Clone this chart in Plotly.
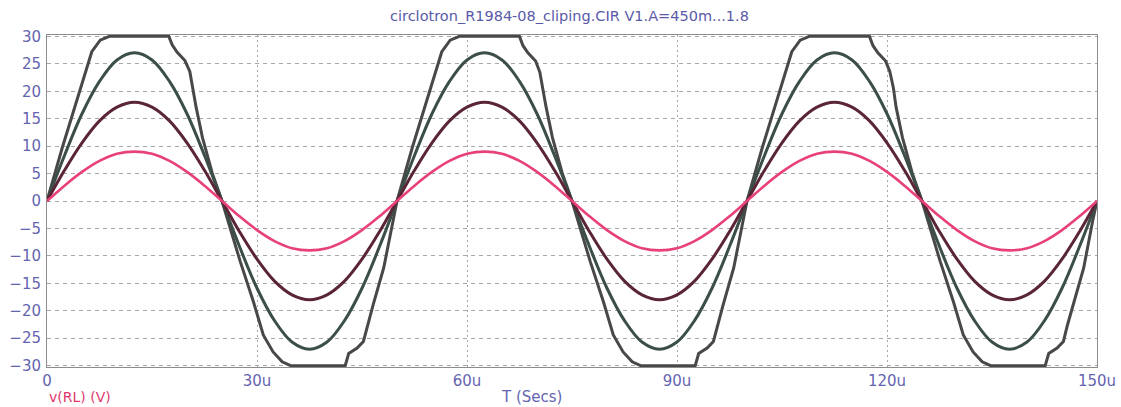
import plotly.graph_objects as go

# sample times (us) for the three unclipped sweeps
t_us = [0, 2.5, 5, 7.5, 10, 12.5, 15, 17.5, 20, 22.5,
        25, 27.5, 30, 32.5, 35, 37.5, 40, 42.5, 45, 47.5,
        50, 52.5, 55, 57.5, 60, 62.5, 65, 67.5, 70, 72.5,
        75, 77.5, 80, 82.5, 85, 87.5, 90, 92.5, 95, 97.5,
        100, 102.5, 105, 107.5, 110, 112.5, 115, 117.5, 120, 122.5,
        125, 127.5, 130, 132.5, 135, 137.5, 140, 142.5, 145, 147.5, 150]

v_450m = [0, 2.8, 5.3, 7.3, 8.6, 9.0, 8.6, 7.3, 5.3, 2.8,
          0, -2.8, -5.3, -7.3, -8.6, -9.0, -8.6, -7.3, -5.3, -2.8,
          0, 2.8, 5.3, 7.3, 8.6, 9.0, 8.6, 7.3, 5.3, 2.8,
          0, -2.8, -5.3, -7.3, -8.6, -9.0, -8.6, -7.3, -5.3, -2.8,
          0, 2.8, 5.3, 7.3, 8.6, 9.0, 8.6, 7.3, 5.3, 2.8,
          0, -2.8, -5.3, -7.3, -8.6, -9.0, -8.6, -7.3, -5.3, -2.8, 0]

v_900m = [0, 5.6, 10.6, 14.6, 17.1, 18.0, 17.1, 14.6, 10.6, 5.6,
          0, -5.6, -10.6, -14.6, -17.1, -18.0, -17.1, -14.6, -10.6, -5.6,
          0, 5.6, 10.6, 14.6, 17.1, 18.0, 17.1, 14.6, 10.6, 5.6,
          0, -5.6, -10.6, -14.6, -17.1, -18.0, -17.1, -14.6, -10.6, -5.6,
          0, 5.6, 10.6, 14.6, 17.1, 18.0, 17.1, 14.6, 10.6, 5.6,
          0, -5.6, -10.6, -14.6, -17.1, -18.0, -17.1, -14.6, -10.6, -5.6, 0]

v_1p35 = [0, 8.3, 15.9, 21.8, 25.7, 27.0, 25.7, 21.8, 15.9, 8.3,
          0, -8.3, -15.9, -21.8, -25.7, -27.0, -25.7, -21.8, -15.9, -8.3,
          0, 8.3, 15.9, 21.8, 25.7, 27.0, 25.7, 21.8, 15.9, 8.3,
          0, -8.3, -15.9, -21.8, -25.7, -27.0, -25.7, -21.8, -15.9, -8.3,
          0, 8.3, 15.9, 21.8, 25.7, 27.0, 25.7, 21.8, 15.9, 8.3,
          0, -8.3, -15.9, -21.8, -25.7, -27.0, -25.7, -21.8, -15.9, -8.3, 0]

# clipped sweep (V1.A = 1.8), read point by point
t_clip = [0, 2.2, 4.4, 5.5, 6.4, 7.6, 8.9, 17.4, 17.9, 18.6, 19.7, 20.4, 20.8, 21.3, 22.2, 23.6,
          25.0, 27.6, 29.5, 30.9, 32.3, 33.6, 34.8, 42.6, 43.1, 44.3, 45.2, 45.8, 46.6, 48.1, 49.4,
          50.0, 52.2, 54.4, 55.5, 56.4, 57.6, 58.9, 67.5, 68.0, 68.7, 69.8, 70.4, 70.8, 71.3, 72.2, 73.6,
          75.0, 77.6, 79.5, 80.9, 82.3, 83.6, 84.8, 92.6, 93.1, 94.3, 95.2, 95.8, 96.6, 98.1, 99.4,
          100.0, 102.2, 104.4, 105.5, 106.4, 107.6, 108.9, 117.5, 118.0, 118.7, 119.8, 120.4, 120.9, 121.3, 122.2, 123.6,
          125.0, 127.6, 129.5, 130.9, 132.3, 133.6, 134.8, 142.6, 143.1, 144.3, 145.2, 145.8, 146.6, 148.1, 149.4,
          150.0]
v_clip = [0, 9.8, 18.9, 23.5, 27.2, 29.3, 30, 30, 28.4, 27.1, 25.6, 23.6, 20.7, 17.1, 11.6, 5.1,
          0, -11.0, -18.4, -24.4, -27.5, -29.3, -30, -30, -27.8, -26.8, -25.6, -22.5, -18.9, -12.2, -3.5,
          0, 9.8, 18.9, 23.5, 27.2, 29.3, 30, 30, 28.3, 27.0, 25.5, 23.5, 20.7, 17.1, 11.6, 5.1,
          0, -11.0, -18.4, -24.4, -27.5, -29.3, -30, -30, -27.8, -26.8, -25.6, -22.5, -18.9, -12.2, -3.5,
          0, 9.8, 18.9, 23.5, 27.2, 29.3, 30, 30, 28.3, 27.0, 25.5, 23.6, 20.7, 17.1, 11.6, 5.1,
          0, -11.0, -18.4, -24.4, -27.5, -29.3, -30, -30, -27.8, -26.8, -25.6, -22.5, -18.9, -12.2, -3.5,
          0]

x_ticks = [0, 30, 60, 90, 120, 150]
x_tick_text = ["0", "30u", "60u", "90u", "120u", "150u"]
y_ticks = [30, 25, 20, 15, 10, 5, 0, -5, -10, -15, -20, -25, -30]

TICK_BLUE = "#6464b0"
FONT = "DejaVu Sans"

fig = go.Figure()
fig.add_trace(go.Scatter(x=t_clip, y=v_clip, mode="lines", name="1.8",
                         line=dict(color="#484848", width=3)))
fig.add_trace(go.Scatter(x=t_us, y=v_1p35, mode="lines", name="1.35",
                         line=dict(color="#3b4f48", width=3, shape="spline")))
fig.add_trace(go.Scatter(x=t_us, y=v_900m, mode="lines", name="900m",
                         line=dict(color="#5a2538", width=3, shape="spline")))
fig.add_trace(go.Scatter(x=t_us, y=v_450m, mode="lines", name="450m",
                         line=dict(color="#e8407a", width=2.6, shape="spline")))

fig.update_layout(
    width=1121, height=407,
    paper_bgcolor="white", plot_bgcolor="white",
    margin=dict(l=47, r=24, t=35, b=40),
    showlegend=False,
    font=dict(family=FONT, size=15, color=TICK_BLUE),
    title=dict(text="circlotron_R1984-08_cliping.CIR V1.A=450m...1.8",
               x=0.508, xanchor="center", y=0.962, yanchor="middle",
               font=dict(family=FONT, size=14.5, color="#5a5aa8")),
)
fig.update_xaxes(range=[0, 150], tickvals=x_ticks, ticktext=x_tick_text, automargin=False,
                 showgrid=True, gridcolor="#a8a8a8", griddash="2px,3px", gridwidth=1,
                 showline=True, mirror=True, linecolor="#8c8c8c", linewidth=1,
                 zeroline=False, ticks="", tickfont=dict(size=15, color=TICK_BLUE))
fig.update_yaxes(range=[-30.25, 30.25], tickvals=y_ticks, automargin=False,
                 showgrid=True, gridcolor="#a8a8a8", griddash="4px,4px", gridwidth=1,
                 showline=True, mirror=True, linecolor="#8c8c8c", linewidth=1,
                 zeroline=False, ticks="", ticklabelstandoff=2,
                 tickfont=dict(size=15, color=TICK_BLUE))

fig.add_annotation(text="v(RL) (V)", xref="paper", yref="paper", x=0, y=-0.09,
                   xanchor="left", yanchor="middle", showarrow=False,
                   font=dict(family=FONT, size=14, color="#e0386e"))
fig.add_annotation(text="T (Secs)", xref="paper", yref="paper", x=0.461, y=-0.09,
                   xanchor="center", yanchor="middle", showarrow=False,
                   font=dict(family=FONT, size=15, color=TICK_BLUE))

fig.write_html("out.html", config={"displayModeBar": False},
               post_script="document.body.style.margin='0';")
